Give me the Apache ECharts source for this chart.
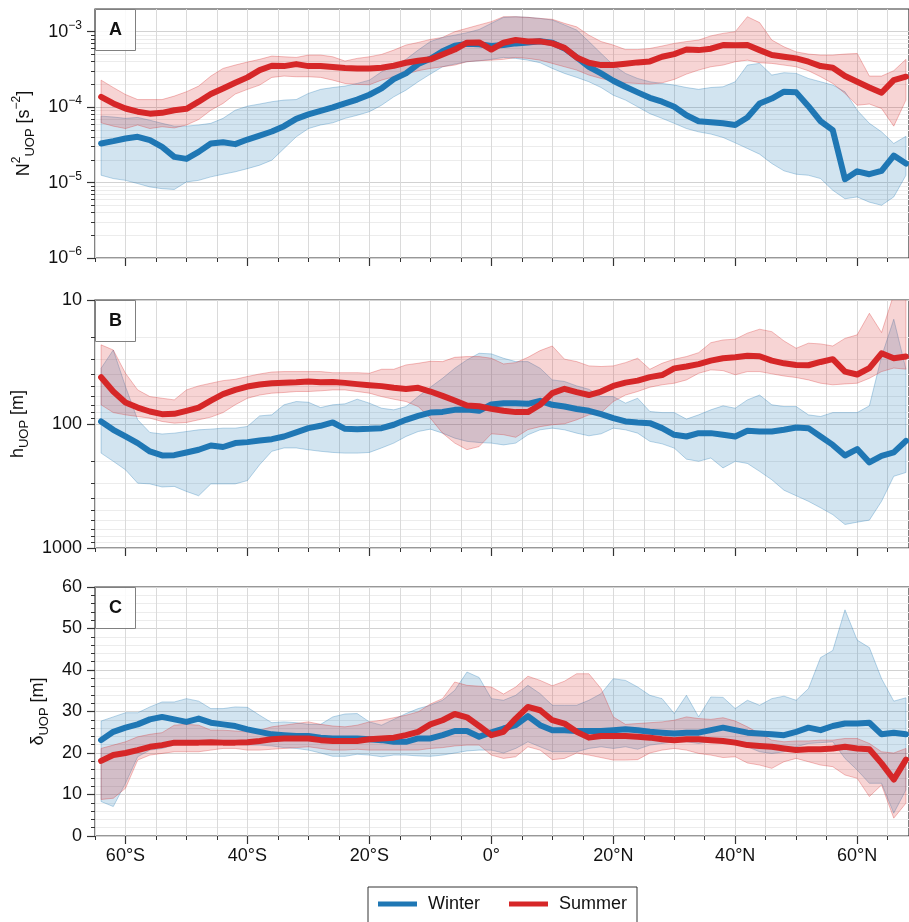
<!DOCTYPE html>
<html><head><meta charset="utf-8">
<script src="https://cdn.jsdelivr.net/npm/echarts@6/dist/echarts.min.js"></script>
<style>html,body{margin:0;padding:0;background:#fff}#c{width:909px;height:922px}</style>
</head><body><div id="c"></div>
<script>
// ---------------- data ----------------
const LAT = [-64,-62,-60,-58,-56,-54,-52,-50,-48,-46,-44,-42,-40,-38,-36,-34,-32,-30,-28,-26,-24,-22,-20,-18,-16,-14,-12,-10,-8,-6,-4,-2,0,2,4,6,8,10,12,14,16,18,20,22,24,26,28,30,32,34,36,38,40,42,44,46,48,50,52,54,56,58,60,62,64,66,68];

// Panel A: N2_UOP [s^-2]
const N2_WINTER = [3.3e-5,3.54e-5,3.84e-5,4.04e-5,3.65e-5,2.97e-5,2.19e-5,2.06e-5,2.55e-5,3.3e-5,
  3.43e-5,3.23e-5,3.72e-5,4.2e-5,4.75e-5,5.6e-5,7.0e-5,8.0e-5,8.9e-5,9.9e-5,
  1.12e-4,1.26e-4,1.46e-4,1.77e-4,2.35e-4,2.8e-4,3.72e-4,4.38e-4,5.5e-4,6.5e-4,
  6.9e-4,6.8e-4,6.45e-4,6.65e-4,7.0e-4,7.2e-4,7.45e-4,7.15e-4,6.0e-4,4.56e-4,
  3.43e-4,2.8e-4,2.24e-4,1.86e-4,1.57e-4,1.33e-4,1.18e-4,1.01e-4,7.8e-5,6.5e-5,
  6.3e-5,6.1e-5,5.8e-5,7.3e-5,1.12e-4,1.3e-4,1.6e-4,1.57e-4,1.03e-4,6.5e-5,
  4.95e-5,1.11e-5,1.41e-5,1.29e-5,1.43e-5,2.28e-5,1.79e-5];
const N2_WINTER_LO = [1.25e-5,1.13e-5,1.07e-5,9.7e-6,8.75e-6,8.3e-6,8.1e-6,1.02e-5,1.07e-5,1.19e-5,
  1.29e-5,1.39e-5,1.53e-5,1.7e-5,1.98e-5,2.83e-5,4.04e-5,5.2e-5,5.8e-5,6.2e-5,
  7.1e-5,7.8e-5,8.7e-5,1.06e-4,1.37e-4,1.68e-4,2.17e-4,2.74e-4,3.43e-4,3.72e-4,
  4.0e-4,4.12e-4,4.3e-4,4.56e-4,4.43e-4,4.2e-4,3.88e-4,3.26e-4,2.8e-4,2.48e-4,
  2.17e-4,1.82e-4,1.44e-4,1.24e-4,1.01e-4,8.2e-5,7.1e-5,6.1e-5,5.2e-5,4.7e-5,
  4.4e-5,3.96e-5,3.36e-5,2.83e-5,2.38e-5,1.79e-5,1.43e-5,1.29e-5,1.25e-5,1.13e-5,
  7.9e-6,6.1e-6,6.45e-6,5.5e-6,5.0e-6,6.45e-6,1.25e-5];
const N2_WINTER_HI = [7.6e-5,7.4e-5,7.1e-5,7.3e-5,6.7e-5,6.1e-5,5.6e-5,5.6e-5,5.8e-5,6.1e-5,
  7.1e-5,9.1e-5,1.03e-4,1.1e-4,1.18e-4,1.24e-4,1.26e-4,1.52e-4,1.72e-4,1.82e-4,
  1.9e-4,2.06e-4,2.28e-4,2.94e-4,3.61e-4,4.3e-4,5.7e-4,7.4e-4,8.4e-4,9.0e-4,
  9.7e-4,1.07e-3,1.29e-3,1.55e-3,1.58e-3,1.55e-3,1.5e-3,1.43e-3,1.23e-3,1.05e-3,
  7.4e-4,5.15e-4,3.61e-4,2.8e-4,2.4e-4,2.17e-4,2.06e-4,1.96e-4,1.82e-4,1.72e-4,
  1.82e-4,1.86e-4,2.17e-4,3.61e-4,3.8e-4,2.66e-4,2.86e-4,2.8e-4,2.4e-4,2.17e-4,
  1.96e-4,1.6e-4,9.1e-5,6.1e-5,4.7e-5,3.3e-5,4.1e-5];
const N2_SUMMER = [1.37e-4,1.12e-4,9.6e-5,8.7e-5,8.2e-5,8.4e-5,9.1e-5,9.5e-5,1.18e-4,1.49e-4,
  1.77e-4,2.1e-4,2.48e-4,3.1e-4,3.54e-4,3.5e-4,3.72e-4,3.5e-4,3.5e-4,3.4e-4,
  3.3e-4,3.26e-4,3.26e-4,3.33e-4,3.54e-4,3.88e-4,4.12e-4,4.3e-4,5.0e-4,5.8e-4,
  7.15e-4,7.2e-4,5.8e-4,7.15e-4,7.75e-4,7.4e-4,7.45e-4,7.0e-4,6.1e-4,4.56e-4,
  3.88e-4,3.61e-4,3.61e-4,3.76e-4,3.92e-4,4.04e-4,4.65e-4,5.05e-4,5.8e-4,5.7e-4,
  5.95e-4,6.65e-4,6.6e-4,6.65e-4,5.7e-4,4.9e-4,4.65e-4,4.43e-4,4.0e-4,3.5e-4,
  3.33e-4,2.58e-4,2.17e-4,1.82e-4,1.55e-4,2.28e-4,2.53e-4];
const N2_SUMMER_LO = [6.2e-5,5.6e-5,5.2e-5,5.8e-5,5.2e-5,5.5e-5,5.3e-5,5.8e-5,6.85e-5,9.1e-5,
  1.12e-4,1.49e-4,1.72e-4,1.96e-4,2.48e-4,2.58e-4,2.53e-4,2.53e-4,2.48e-4,2.28e-4,
  2.06e-4,2.0e-4,1.98e-4,2.28e-4,2.53e-4,2.74e-4,3.04e-4,3.26e-4,3.43e-4,3.61e-4,
  4.0e-4,4.12e-4,4.2e-4,4.3e-4,4.56e-4,4.43e-4,4.2e-4,3.8e-4,3.43e-4,3.1e-4,
  2.66e-4,2.4e-4,2.21e-4,2.1e-4,2.06e-4,2.02e-4,2.1e-4,2.33e-4,2.74e-4,3.1e-4,
  3.43e-4,3.61e-4,4.0e-4,4.2e-4,3.88e-4,3.8e-4,3.61e-4,3.43e-4,3.04e-4,2.53e-4,
  2.06e-4,1.52e-4,1.06e-4,1.1e-4,9.6e-5,5.6e-5,1.24e-4];
const N2_SUMMER_HI = [2.28e-4,1.82e-4,1.47e-4,1.26e-4,1.26e-4,1.26e-4,1.4e-4,1.6e-4,1.9e-4,2.58e-4,
  3.26e-4,3.61e-4,3.96e-4,4.3e-4,4.75e-4,4.65e-4,4.56e-4,4.9e-4,4.9e-4,4.65e-4,
  4.08e-4,4.43e-4,4.65e-4,5.0e-4,5.7e-4,6.65e-4,7.2e-4,7.9e-4,8.4e-4,1.0e-3,
  1.11e-3,1.23e-3,1.36e-3,1.58e-3,1.58e-3,1.55e-3,1.5e-3,1.46e-3,1.29e-3,1.16e-3,
  9.0e-4,7.4e-4,6.65e-4,5.8e-4,5.8e-4,6.0e-4,6.45e-4,7.0e-4,7.4e-4,7.75e-4,
  8.8e-4,9.5e-4,1.0e-3,1.58e-3,1.32e-3,7.75e-4,6.3e-4,5.4e-4,5.05e-4,4.9e-4,
  4.9e-4,5.05e-4,5.15e-4,2.58e-4,2.58e-4,3.04e-4,4.3e-4];

// Panel B: h_UOP [m]
const H_WINTER = [95.4,111.4,126.1,142.6,166.5,179.4,178.3,169.6,161.4,149,
  153.3,142.6,140,136,132.5,126.1,117,108,103.4,97.2,
  109.4,110,109.4,108,101.4,92.5,86,80.9,79.9,76.9,
  76.5,78.3,69.5,67.9,67.9,68.8,65,70,72.3,75.6,
  78.3,83.3,89.7,95.4,97.2,98.4,108,122.2,126.1,118.5,
  118.5,122.2,126.1,113.5,114.9,114.9,111.4,106.7,108,126.1,
  147.4,179.4,159.4,204,180.5,169.6,136.8];
const H_WINTER_LO = [35.5,25.3,49.9,92.5,117,120.4,118.5,115,111.4,110,
  108,108,104.7,86,84.4,70,65.9,66.8,73.7,70,
  68.8,63.1,67.9,74.6,76.9,72.3,60.1,50.5,42.8,35.5,
  30.4,26.9,27.2,29.5,31.4,31.4,35.5,44.1,45.4,49.3,
  52.5,60.1,60.1,67.9,62,79.3,80.9,80.9,91.3,84.4,
  76.9,71.4,74.6,63.9,58.4,70,72.3,72.3,84.4,87,
  80.9,80.9,80.9,71.4,28.6,14.3,36.1];
const H_WINTER_HI = [171.7,200,234,300,304,322,318.6,350,379,304,
  304,304,286,213,166,156,156,161.4,166,169.6,
  171.7,171.7,169.6,156,142.6,126.1,115,110,118.5,130,
  138,141,142.6,147.4,142.6,122.2,111.4,108,111.4,118.5,
  124.5,120,108,111.4,118.5,138,144.5,156.5,192,200,
  188,226,200,208,241,281.6,342,379,420,474,
  538,646,619,596,420,264,246];
const H_SUMMER = [42,54.7,67,73.7,79.3,83.3,82.8,78.3,73.7,64.7,
  57.5,53.1,49.9,48.1,46.9,46.4,46.1,45.4,46.1,45.8,
  46.6,47.7,48.6,49.5,51.1,52.1,51.1,54.7,59.3,64.7,
  71,72,75.5,78.3,80.2,80.2,70,56.4,52,55.3,
  58.4,54.7,49.3,46.4,44.7,41.9,40.3,35.6,34.4,32.9,
  30.8,29.5,29.0,28.2,28.4,30.8,32.4,33.4,33.6,31.6,
  30.0,37.8,39.9,35.4,26.9,29.5,28.6];
const H_SUMMER_LO = [23.0,25.3,39,53.1,60.1,62,63.9,53.1,49.3,46.9,
  44.7,43.6,41.4,39.5,38.1,37.8,37.8,37.8,37.8,38.6,
  38.6,38.6,39.0,36.2,36.2,33.4,32.4,31.2,31.4,29.0,
  28.6,28.6,29.5,32.8,32.0,29.0,25.6,23.5,30,31.4,
  34,34.4,34,32,29.5,36.2,32.4,30,28.6,26.6,
  22.1,21.0,20.7,18.5,17.2,18,21.4,24.5,22.3,22.6,
  23.5,20.4,19.1,12.8,18.3,9,9];
const H_SUMMER_HI = [70,80.9,84.4,87,89.7,95.4,98.4,97.2,92.5,88,
  80.9,70,62,58.4,56.4,55.7,54.7,54.7,54,53.1,
  53.1,54.7,56.4,60.1,63.1,65.9,72.3,89.7,118.5,142.6,
  161,152,120,122,128,111,105,101.4,99.6,92.5,
  84.4,80.9,65.9,58.4,54.7,50.5,48.3,46.9,44.1,39,
  36.6,37.1,40.1,37.8,37.8,39.4,41,42.2,44.1,46.9,
  48.3,47.5,46.9,42.8,37.8,35.4,36.1];

// Panel C: delta_UOP [m]
const D_WINTER = [23.1,25.1,26.1,26.9,28.1,28.7,28.1,27.5,28.3,27.3,
  26.9,26.5,25.7,25.1,24.5,24.3,24.1,24.1,23.7,23.5,
  23.5,23.5,23.3,23.1,22.7,22.7,23.5,23.5,24.3,25.3,
  25.3,23.9,25.0,25.9,26.7,28.9,26.7,25.5,25.5,25.3,
  25.3,25.3,25.5,25.7,25.5,25.1,24.9,24.7,24.9,24.9,
  25.5,26.1,25.5,24.9,24.7,24.5,24.3,25.1,26.1,25.5,
  26.5,27.1,27.1,27.3,24.5,24.9,24.5];
const D_WINTER_LO = [8.3,7.1,12.7,19.1,20.7,21.1,21.9,22.5,22.3,22.3,
  22.3,22.1,21.9,21.9,21.7,21.3,21.1,20.7,20.0,19.2,
  19.2,19.7,19.5,19.1,19.5,19.5,19.3,19.2,19.5,20.0,
  20.5,20.7,20.7,20.0,21.1,22.7,21.5,20.3,20.3,20.3,
  21.1,21.5,21.1,21.5,20.9,21.9,22.3,22.7,22.7,22.3,
  22.7,23.1,22.7,21.5,20.3,19.9,20.3,21.5,22.3,22.5,
  22.7,18.7,15.9,12.7,12.7,5.5,11.1];
const D_WINTER_HI = [27.7,28.7,29.7,29.7,31.1,32.3,32.3,33.1,32.5,30.7,
  30.7,31.1,31.0,29.1,27.3,27.5,27.3,26.9,26.9,28.7,
  29.4,29.5,27.5,26.7,28.1,29.5,30.7,31.5,32.7,35.1,
  39.5,38.2,33.1,32.7,33.9,36.3,34.3,31.5,31.5,31.5,
  32.7,34.3,37.9,37.5,35.9,33.9,33.1,29.5,33.9,28.7,
  33.5,33.4,30.7,32.7,31.5,33.1,33.7,32.7,35.5,43.0,
  44.7,54.5,47.2,45.4,37.9,32.5,33.3];
const D_SUMMER = [18.1,19.5,20.0,20.7,21.5,21.9,22.5,22.5,22.5,22.6,
  22.5,22.5,22.6,22.9,23.3,23.5,23.5,23.5,23.1,22.9,
  22.9,22.9,23.3,23.5,23.7,24.3,25.1,26.9,27.9,29.4,
  28.6,26.5,24.3,25.1,28.3,31.1,30.3,27.9,27.1,25.1,
  23.7,24.1,24.1,24.1,23.9,23.7,23.3,23.1,23.3,23.3,
  23.1,22.9,22.5,21.9,21.7,21.5,21.1,20.7,20.9,20.9,
  21.1,21.5,21.1,20.9,17.5,13.6,18.4];
const D_SUMMER_LO = [8.8,9.1,11.5,18.3,19.5,19.9,20.3,20.3,20.3,20.7,
  21.1,21.1,20.7,20.7,20.9,21.1,21.3,21.5,21.1,20.7,
  20.7,20.9,20.7,20.7,20.7,20.7,20.7,21.1,21.3,21.7,
  21.9,21.9,19.5,18.7,19.1,21.5,20.7,18.4,18.7,20.0,
  19.5,18.9,18.3,18.3,18.4,20.0,20.7,21.1,20.7,19.9,
  19.5,18.9,19.1,17.6,17.1,16.3,17.9,18.7,17.9,17.1,
  16.7,14.7,13.9,9.5,12.3,4.3,7.9];
const D_SUMMER_HI = [21.1,21.9,22.7,23.9,24.5,24.9,26.7,26.9,26.7,25.5,
  25.5,25.3,25.1,25.5,26.3,26.7,27.1,27.5,26.9,26.5,
  26.3,26.7,27.5,27.9,28.5,29.1,29.9,31.8,33.1,37.1,
  36.3,36.1,35.9,34.2,35.9,38.5,37.5,36.2,37.3,39.1,
  39.1,35.5,28.7,26.9,27.1,27.3,27.5,27.9,28.7,28.3,
  28.1,28.5,27.7,26.3,24.7,23.1,22.7,22.9,22.9,23.1,
  23.1,23.5,23.5,22.3,20.3,20.0,21.1];

// tick labels / positions
const X_TICKS = [-60,-40,-20,0,20,40,60];
const N2_TICKS = [1e-6,1e-5,1e-4,1e-3];
const H_TICKS = [10,100,1000];
const PANEL_LABELS = ['A','B','C'];
const SERIES_NAMES = ['Winter','Summer'];

// ---------------- styling ----------------
const FONT = '"Liberation Sans", Arial, Helvetica, sans-serif';
const TXT = '#111';
const BLUE = '#1f77b4', RED = '#d62728';
const BLUE_FILL = 'rgba(31,119,180,0.2)', RED_FILL = 'rgba(214,39,40,0.2)';
const BLUE_EDGE = 'rgba(31,119,180,0.3)', RED_EDGE = 'rgba(214,39,40,0.3)';
const GRID_TOPS = [9, 300, 587];
const GRID_H = [249, 248, 249];

function minorLog(decades, maxV) {
  const out = [];
  decades.forEach(d => { for (let m = 2; m <= 9; m++) { const v = m * d; if (v < maxV * 0.999) out.push(v); } });
  return out;
}
const N2_MINOR = minorLog([1e-6,1e-5,1e-4,1e-3], 2e-3);
const H_MINOR = minorLog([10,100], 1000);

const pairs = ys => LAT.map((x, i) => [x, ys[i]]);
const fmtLat = v => v === 0 ? '0°' : (v < 0 ? (-v) + '°S' : v + '°N');

const nameRich = {
  b: {fontSize: 18, lineHeight: 26, fontFamily: FONT, color: TXT},
  sup: {fontSize: 12, lineHeight: 14, verticalAlign: 'top', fontFamily: FONT, color: TXT},
  sub: {fontSize: 13, lineHeight: 14, verticalAlign: 'bottom', fontFamily: FONT, color: TXT}
};

const grids = GRID_TOPS.map((t, k) => ({
  left: 95, right: 0, top: t, height: GRID_H[k],
  show: true, borderColor: '#333', borderWidth: 1.2, backgroundColor: 'transparent'
}));

const xAxes = [];
for (let k = 0; k < 3; k++) {
  xAxes.push({
    type: 'value', gridIndex: k, min: -65, max: 68.5, position: 'bottom',
    axisLine: {show: false, onZero: false},
    axisTick: {show: true, customValues: X_TICKS, length: 8, lineStyle: {color: '#333', width: 1.2}},
    axisLabel: {show: k === 2, customValues: X_TICKS, formatter: fmtLat, fontSize: 18, color: TXT, fontFamily: FONT, margin: 11},
    splitLine: {show: false}
  });
  xAxes.push({
    type: 'value', gridIndex: k, min: -65, max: 68.5, interval: 5, position: 'bottom',
    axisLine: {show: false, onZero: false},
    axisTick: {show: true, length: 4, lineStyle: {color: '#333', width: 1}},
    axisLabel: {show: false},
    splitLine: {show: true, lineStyle: {color: '#dadada', width: 1}}
  });
}

const majorTick = {length: 8, lineStyle: {color: '#333', width: 1.2}};
const minorTickStyle = {length: 4, lineStyle: {color: '#333', width: 1}};
const yLabel = {fontSize: 18, color: TXT, fontFamily: FONT, margin: 13};
const noLine = {show: false, onZero: false};

const yAxes = [
  { // A main
    type: 'log', logBase: 10, gridIndex: 0, min: 1e-6, max: 2e-3, position: 'left',
    axisLine: noLine,
    axisTick: Object.assign({show: true, customValues: N2_TICKS}, majorTick),
    axisLabel: Object.assign({}, yLabel, {
      customValues: N2_TICKS, lineHeight: 24,
      formatter: v => '10{s|−' + (-Math.round(Math.log10(v))) + '}',
      rich: {s: {fontSize: 12, lineHeight: 14, verticalAlign: 'top', fontFamily: FONT, color: TXT}}
    }),
    splitLine: {show: true, lineStyle: {color: '#d2d2d2', width: 1}},
    name: '{b|N}{sup|2}{sub|UOP}{b| [s}{sup|−2}{b|]}', nameLocation: 'middle', nameRotate: 90, nameGap: 58,
    nameTextStyle: {fontSize: 18, fontFamily: FONT, color: TXT, rich: nameRich}
  },
  { // A minor
    type: 'log', logBase: 10, gridIndex: 0, min: 1e-6, max: 2e-3, position: 'left',
    axisLine: noLine,
    axisTick: Object.assign({show: true, customValues: N2_MINOR}, minorTickStyle),
    axisLabel: {show: false},
    splitLine: {show: true, lineStyle: {color: '#ececec', width: 1}}
  },
  { // B main
    type: 'log', logBase: 10, gridIndex: 1, min: 10, max: 1000, inverse: true, position: 'left',
    axisLine: noLine,
    axisTick: Object.assign({show: true, customValues: H_TICKS}, majorTick),
    axisLabel: Object.assign({}, yLabel, {customValues: H_TICKS, formatter: v => String(Math.round(v))}),
    splitLine: {show: true, lineStyle: {color: '#d2d2d2', width: 1}},
    name: '{b|h}{sub|UOP}{b| [m]}', nameLocation: 'middle', nameRotate: 90, nameGap: 64,
    nameTextStyle: {fontSize: 18, fontFamily: FONT, color: TXT, rich: nameRich}
  },
  { // B minor
    type: 'log', logBase: 10, gridIndex: 1, min: 10, max: 1000, inverse: true, position: 'left',
    axisLine: noLine,
    axisTick: Object.assign({show: true, customValues: H_MINOR}, minorTickStyle),
    axisLabel: {show: false},
    splitLine: {show: true, lineStyle: {color: '#ececec', width: 1}}
  },
  { // C
    type: 'value', gridIndex: 2, min: 0, max: 60, interval: 10, position: 'left',
    axisLine: noLine,
    axisTick: Object.assign({show: true}, majorTick),
    minorTick: {show: true, splitNumber: 5, length: 4, lineStyle: {color: '#333', width: 1}},
    axisLabel: yLabel,
    splitLine: {show: true, lineStyle: {color: '#d2d2d2', width: 1}},
    minorSplitLine: {show: true, lineStyle: {color: '#ececec', width: 1}},
    name: '{b|δ}{sub|UOP}{b| [m]}', nameLocation: 'middle', nameRotate: 90, nameGap: 40,
    nameTextStyle: {fontSize: 18, fontFamily: FONT, color: TXT, rich: nameRich}
  }
];

const panels = [
  {x: 0, y: 0, w: [N2_WINTER, N2_WINTER_LO, N2_WINTER_HI], s: [N2_SUMMER, N2_SUMMER_LO, N2_SUMMER_HI]},
  {x: 2, y: 2, w: [H_WINTER, H_WINTER_LO, H_WINTER_HI], s: [H_SUMMER, H_SUMMER_LO, H_SUMMER_HI]},
  {x: 4, y: 4, w: [D_WINTER, D_WINTER_LO, D_WINTER_HI], s: [D_SUMMER, D_SUMMER_LO, D_SUMMER_HI]}
];

// band polygon drawn through the axes' own scales (api.coord)
function bandRender(lo, hi, fill, edge) {
  return function (params, api) {
    if (params.dataIndex !== 0) return null;
    const top = LAT.map((x, i) => api.coord([x, hi[i]]));
    const bot = LAT.map((x, i) => api.coord([x, lo[i]])).reverse();
    const cs = params.coordSys;
    return {
      type: 'group',
      clipPath: {type: 'rect', shape: {x: cs.x, y: cs.y, width: cs.width, height: cs.height}},
      children: [{type: 'polygon', shape: {points: top.concat(bot)}, style: {fill: fill, stroke: edge, lineWidth: 1}}]
    };
  };
}

const series = [];
panels.forEach((p, k) => {
  [[p.w, BLUE_EDGE, BLUE_FILL, 'w'], [p.s, RED_EDGE, RED_FILL, 's']].forEach(([d, edge, fill, tag]) => {
    series.push({
      type: 'custom', name: 'band-' + tag + k, xAxisIndex: p.x, yAxisIndex: p.y, silent: true, animation: false,
      data: LAT.map((x, i) => [x, d[1][i], d[2][i]]), encode: {x: 0, y: [1, 2]},
      renderItem: bandRender(d[1], d[2], fill, edge), z: 2
    });
  });
  const base = {type: 'line', xAxisIndex: p.x, yAxisIndex: p.y, symbol: 'none', showSymbol: false, silent: true, animation: false, clip: true, z: 3};
  series.push(Object.assign({}, base, {
    name: SERIES_NAMES[0], data: pairs(p.w[0]), color: BLUE,
    lineStyle: {color: BLUE, width: 6, join: 'round', cap: 'round'}
  }));
  series.push(Object.assign({}, base, {
    name: SERIES_NAMES[1], data: pairs(p.s[0]), color: RED,
    lineStyle: {color: RED, width: 6, join: 'round', cap: 'round'}
  }));
});

const option = {
  animation: false,
  backgroundColor: '#fff',
  textStyle: {fontFamily: FONT},
  title: PANEL_LABELS.map((t, k) => ({
    text: t, left: 95, top: GRID_TOPS[k], padding: [12, 14, 12, 14],
    borderColor: '#808080', borderWidth: 1, backgroundColor: 'rgba(255,255,255,0.85)',
    textStyle: {fontSize: 18, fontWeight: 'bold', color: TXT, fontFamily: FONT, lineHeight: 18}
  })),
  legend: {
    data: SERIES_NAMES, left: 368, top: 887, orient: 'horizontal',
    padding: [8, 10, 20, 10], itemGap: 29, itemWidth: 39, itemHeight: 5, icon: 'rect',
    borderColor: '#333', borderWidth: 1, borderRadius: 0, selectedMode: false,
    textStyle: {fontSize: 18, color: TXT, fontFamily: FONT, padding: [0, 0, 0, 6]}
  },
  grid: grids,
  xAxis: xAxes,
  yAxis: yAxes,
  series: series
};

const chart = echarts.init(document.getElementById('c'), null, {renderer: 'canvas'});
chart.setOption(option);
</script>
</body></html>
